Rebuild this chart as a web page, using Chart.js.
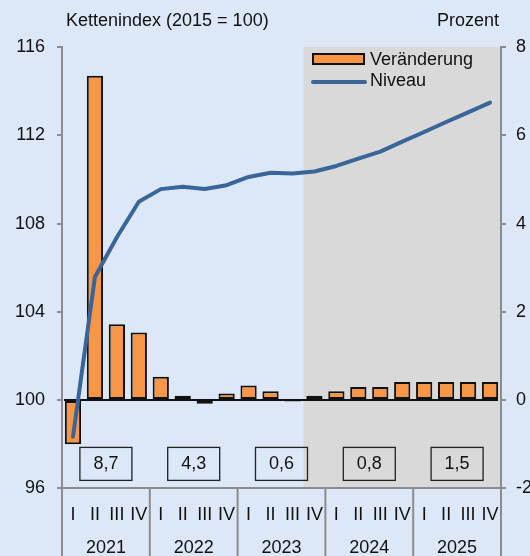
<!DOCTYPE html>
<html>
<head>
<meta charset="utf-8">
<script src="https://cdn.jsdelivr.net/npm/chart.js@4"></script>
<style>
  html, body { margin: 0; padding: 0; background: #dce8f7; }
  #wrap { width: 530px; height: 556px; }
</style>
</head>
<body>
<div id="wrap"><canvas id="chart" width="530" height="556"></canvas></div>
<script>
var quarters = ['I','II','III','IV','I','II','III','IV','I','II','III','IV','I','II','III','IV','I','II','III','IV'];
var years = ['2021', '2022', '2023', '2024', '2025'];
var yearRates = ['8,7', '4,3', '0,6', '0,8', '1,5'];
// Veränderung zum Vorquartal in Prozent (rechte Achse)
var change = [-1.0, 7.35, 1.72, 1.53, 0.53, 0.10, -0.08, 0.15, 0.33, 0.20, -0.03, 0.10,
              0.20, 0.30, 0.30, 0.41, 0.41, 0.41, 0.41, 0.41];
// Niveau, Kettenindex 2015 = 100 (linke Achse)
var level = [98.34, 105.58, 107.38, 108.99, 109.56, 109.67, 109.57, 109.74, 110.11, 110.30, 110.27, 110.36,
             110.61, 110.94, 111.26, 111.71, 112.15, 112.60, 113.04, 113.48];
var forecastStart = 11; // first quarter of the shaded forecast

var FONT = '"Liberation Sans", Arial, sans-serif';
var BG = '#dce8f7';
var SHADE = '#d9d9d9';
var ORANGE = '#f79646';
var BLUE = '#3a6598';
var AXIS = '#8c8c8c';
var TXT = '#111111';

var decor = {
  id: 'decor',
  beforeDraw: function(chart) {
    var ctx = chart.ctx, a = chart.chartArea, x = chart.scales.x;
    var catW = x.getPixelForValue(1) - x.getPixelForValue(0);
    ctx.save();
    ctx.fillStyle = BG;
    ctx.fillRect(0, 0, chart.width, chart.height);
    var gx = x.getPixelForValue(forecastStart) - catW / 2;
    ctx.fillStyle = SHADE;
    ctx.fillRect(gx, a.top, a.right - gx, a.bottom - a.top);
    ctx.restore();
  },
  beforeDatasetsDraw: function(chart) {
    var ctx = chart.ctx, a = chart.chartArea, y1 = chart.scales.y1;
    var zy = y1.getPixelForValue(0);
    ctx.save();
    ctx.strokeStyle = '#111';
    ctx.lineWidth = 2;
    ctx.beginPath();
    ctx.moveTo(a.left + 2, zy);
    ctx.lineTo(a.right - 3, zy);
    ctx.stroke();
    ctx.restore();
  },
  afterDraw: function(chart) {
    var ctx = chart.ctx, a = chart.chartArea, x = chart.scales.x;
    var catW = x.getPixelForValue(1) - x.getPixelForValue(0);
    ctx.save();
    ctx.font = '18px ' + FONT;
    ctx.fillStyle = TXT;
    ctx.textBaseline = 'middle';

    // axis titles
    ctx.textAlign = 'left';
    ctx.fillText('Kettenindex (2015 = 100)', 66, 21);
    ctx.textAlign = 'right';
    ctx.fillText('Prozent', 499, 21);

    // year separators below the axis
    ctx.strokeStyle = AXIS;
    ctx.lineWidth = 2;
    for (var k = 0; k <= years.length; k++) {
      var sx = a.left + k * 4 * catW;
      ctx.beginPath();
      ctx.moveTo(sx, a.bottom);
      ctx.lineTo(sx, chart.height);
      ctx.stroke();
    }

    // year labels and annual rate boxes
    ctx.textAlign = 'center';
    for (var i = 0; i < years.length; i++) {
      var cx = (x.getPixelForValue(i * 4 + 1) + x.getPixelForValue(i * 4 + 2)) / 2;
      ctx.fillStyle = TXT;
      ctx.fillText(years[i], cx, 548);
      ctx.strokeStyle = '#222';
      ctx.lineWidth = 1.3;
      ctx.strokeRect(cx - 26, a.bottom - 41, 52, 33);
      ctx.fillText(yearRates[i], cx, a.bottom - 24);
    }

    // legend
    ctx.fillStyle = ORANGE;
    ctx.fillRect(313, 54, 51, 10);
    ctx.strokeStyle = '#111';
    ctx.lineWidth = 2;
    ctx.strokeRect(313, 54, 51, 10);
    ctx.strokeStyle = BLUE;
    ctx.lineWidth = 4;
    ctx.lineCap = 'round';
    ctx.beginPath();
    ctx.moveTo(313, 82);
    ctx.lineTo(365, 82);
    ctx.stroke();
    ctx.fillStyle = TXT;
    ctx.textAlign = 'left';
    ctx.fillText('Veränderung', 370, 60);
    ctx.fillText('Niveau', 370, 81);
    ctx.restore();
  }
};

new Chart(document.getElementById('chart').getContext('2d'), {
  type: 'bar',
  data: {
    labels: quarters,
    datasets: [{
      type: 'line',
      label: 'Niveau',
      data: level,
      yAxisID: 'y',
      borderColor: BLUE,
      borderWidth: 4,
      pointRadius: 0,
      tension: 0,
      borderJoinStyle: 'round',
      borderCapStyle: 'round',
      order: 0
    }, {
      label: 'Veränderung',
      data: change,
      yAxisID: 'y1',
      backgroundColor: ORANGE,
      borderColor: '#111',
      borderWidth: 2,
      borderSkipped: false,
      categoryPercentage: 1,
      barPercentage: 0.74,
      order: 1
    }]
  },
  options: {
    responsive: false,
    animation: false,
    devicePixelRatio: 1,
    layout: { padding: { top: 47, left: 0, right: 0, bottom: 14 } },
    scales: {
      x: {
        offset: true,
        grid: { display: false, drawTicks: false },
        border: { color: AXIS, width: 2 },
        ticks: {
          color: TXT,
          font: { family: FONT, size: 18 },
          padding: 16,
          maxRotation: 0,
          autoSkip: false
        }
      },
      y: {
        position: 'left',
        min: 96,
        max: 116,
        grid: { drawOnChartArea: false, tickLength: 5, color: AXIS, lineWidth: 2 },
        border: { color: AXIS, width: 2 },
        ticks: {
          stepSize: 4,
          padding: 12,
          color: TXT,
          font: { family: FONT, size: 18 }
        },
        afterFit: function(s) { s.width = 62; }
      },
      y1: {
        position: 'right',
        min: -2,
        max: 8,
        grid: { drawOnChartArea: false, tickLength: 5, color: AXIS, lineWidth: 2 },
        border: { color: AXIS, width: 2 },
        ticks: {
          stepSize: 2,
          padding: 10,
          color: TXT,
          font: { family: FONT, size: 18 }
        },
        afterFit: function(s) { s.width = 29; }
      }
    },
    plugins: {
      legend: { display: false },
      tooltip: { enabled: false }
    }
  },
  plugins: [decor]
});
</script>
</body>
</html>
